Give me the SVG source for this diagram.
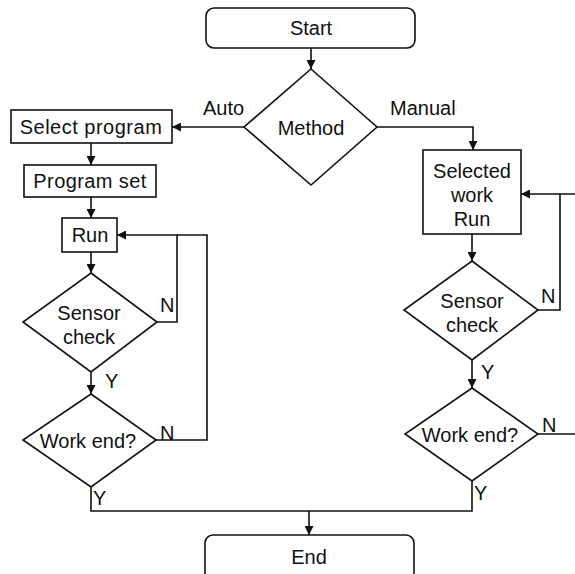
<svg xmlns="http://www.w3.org/2000/svg" width="575" height="574" viewBox="0 0 575 574">
<style>
.s{fill:#fff;stroke:#111;stroke-width:1.6}
.c{fill:none;stroke:#111;stroke-width:1.6}
text{font-family:"Liberation Sans",Arial,sans-serif;font-size:20px;fill:#111}
.m{text-anchor:middle}
</style>
<defs>
<marker id="ah" viewBox="0 0 10 10" refX="10" refY="5" markerWidth="9" markerHeight="9" markerUnits="userSpaceOnUse" orient="auto">
<path d="M0,0 L10,5 L0,10 z" fill="#111"/>
</marker>
</defs>
<rect width="575" height="574" fill="#fff"/>
<g id="connectors">
<path class="c" d="M311,48 V69" marker-end="url(#ah)"/>
<path class="c" d="M244,127 H172" marker-end="url(#ah)"/>
<path class="c" d="M377,127 H473 V150" marker-end="url(#ah)"/>
<path class="c" d="M91,143 V165" marker-end="url(#ah)"/>
<path class="c" d="M91,197 V218" marker-end="url(#ah)"/>
<path class="c" d="M91,252 V273" marker-end="url(#ah)"/>
<path class="c" d="M157,322 H177 V235 H117" marker-end="url(#ah)"/>
<path class="c" d="M156,440 H207 V235 H177"/>
<path class="c" d="M91,372 V394" marker-end="url(#ah)"/>
<path class="c" d="M91,487 V511 H472 V481"/>
<path class="c" d="M309,511 V535" marker-end="url(#ah)"/>
<path class="c" d="M472,234 V261" marker-end="url(#ah)"/>
<path class="c" d="M472,360 V388" marker-end="url(#ah)"/>
<path class="c" d="M538,310 H560 V194" />
<path class="c" d="M575,194 H521" marker-end="url(#ah)"/>
<path class="c" d="M538,434 H575"/>
</g>
<g id="labels">
<text x="203" y="115">Auto</text>
<text x="390" y="115">Manual</text>
<text x="160" y="312">N</text>
<text x="160" y="440" font-size="19">N</text>
<text x="105" y="388">Y</text>
<text x="93" y="505">Y</text>
<text x="541" y="303">N</text>
<text x="542" y="432" font-size="19">N</text>
<text x="481" y="379">Y</text>
<text x="474" y="500">Y</text>
</g>
<g id="start">
<rect class="s" x="206" y="8" width="209" height="40" rx="8"/>
<text class="m" x="311" y="35">Start</text>
</g>
<g id="method">
<polygon class="s" points="311,69 377,127 311,185 244,127"/>
<text class="m" x="311" y="135">Method</text>
</g>
<g id="select-program">
<rect class="s" x="11" y="110" width="161" height="33"/>
<text class="m" x="91" y="134" letter-spacing="0.5">Select program</text>
</g>
<g id="program-set">
<rect class="s" x="24" y="165" width="132" height="32"/>
<text class="m" x="90" y="188" letter-spacing="0.4">Program set</text>
</g>
<g id="run">
<rect class="s" x="62" y="218" width="55" height="34"/>
<text class="m" x="90" y="242">Run</text>
</g>
<g id="sensor-check-left">
<polygon class="s" points="91,273 157,322 91,372 23,322"/>
<text class="m" x="89" y="320">Sensor</text>
<text class="m" x="89" y="344">check</text>
</g>
<g id="work-end-left">
<polygon class="s" points="91,394 156,440 91,487 23,440"/>
<text class="m" x="88" y="448">Work end?</text>
</g>
<g id="selected-work-run">
<rect class="s" x="423" y="150" width="98" height="84"/>
<text class="m" x="472" y="178">Selected</text>
<text class="m" x="472" y="202">work</text>
<text class="m" x="472" y="226">Run</text>
</g>
<g id="sensor-check-right">
<polygon class="s" points="472,261 538,310 472,360 404,310"/>
<text class="m" x="472" y="308">Sensor</text>
<text class="m" x="472" y="332">check</text>
</g>
<g id="work-end-right">
<polygon class="s" points="472,388 538,434 472,481 405,434"/>
<text class="m" x="470" y="442">Work end?</text>
</g>
<g id="end">
<rect class="s" x="205" y="535" width="209" height="48" rx="8"/>
<text class="m" x="309" y="564">End</text>
</g>
</svg>
